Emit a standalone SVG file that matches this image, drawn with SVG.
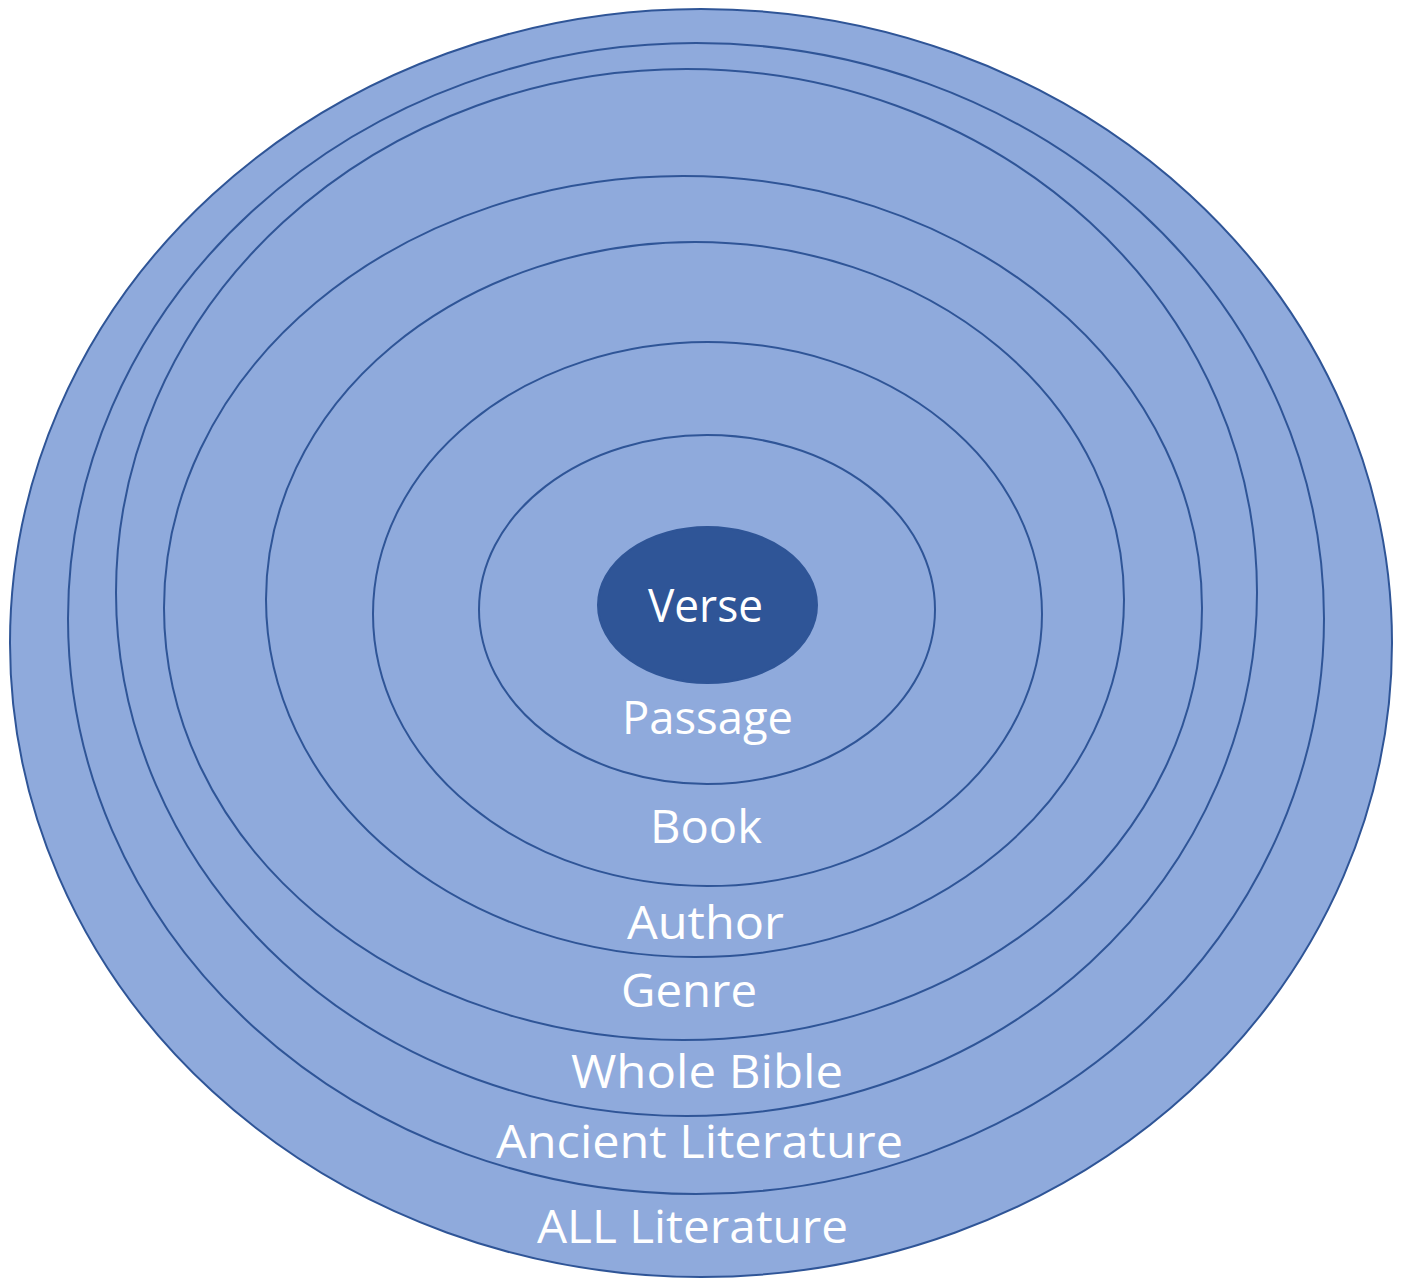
<svg xmlns="http://www.w3.org/2000/svg" width="1403" height="1278" viewBox="0 0 1403 1278">
<style>
.ring{fill:#8FAADC;stroke:#2F5597;stroke-width:2}
.core{fill:#2F5597;stroke:#2F5597;stroke-width:2}
.lbl{font-family:"Open Sans","Noto Sans","Liberation Sans",sans-serif;font-size:46px;fill:#FFFFFF;text-anchor:middle}
</style>
<rect width="1403" height="1278" fill="#FFFFFF"/>
<g id="all-literature"><ellipse class="ring" cx="701" cy="643" rx="691" ry="634"/></g>
<g id="ancient-literature"><ellipse class="ring" cx="696" cy="618.5" rx="628" ry="575.5"/></g>
<g id="whole-bible"><ellipse class="ring" cx="686.5" cy="592.5" rx="570.5" ry="523.5"/></g>
<g id="genre"><ellipse class="ring" cx="683" cy="608" rx="519" ry="432"/></g>
<g id="author"><ellipse class="ring" cx="695" cy="599.5" rx="429" ry="357.5"/></g>
<g id="book"><ellipse class="ring" cx="707.5" cy="614" rx="334.5" ry="272"/></g>
<g id="passage"><ellipse class="ring" cx="707" cy="609.5" rx="228" ry="174.5"/></g>
<g id="verse"><ellipse class="core" cx="707.5" cy="605" rx="109.5" ry="78"/></g>
<g id="labels">
<text class="lbl" x="705.5" y="622" textLength="115" lengthAdjust="spacingAndGlyphs">Verse</text>
<text class="lbl" x="707.5" y="734" textLength="171" lengthAdjust="spacingAndGlyphs">Passage</text>
<text class="lbl" x="706" y="843" textLength="112" lengthAdjust="spacingAndGlyphs">Book</text>
<text class="lbl" x="705.5" y="939" textLength="157" lengthAdjust="spacingAndGlyphs">Author</text>
<text class="lbl" x="689" y="1007" textLength="136" lengthAdjust="spacingAndGlyphs">Genre</text>
<text class="lbl" x="707" y="1088" textLength="272" lengthAdjust="spacingAndGlyphs">Whole Bible</text>
<text class="lbl" x="699.5" y="1158" textLength="407" lengthAdjust="spacingAndGlyphs">Ancient Literature</text>
<text class="lbl" x="692.5" y="1243" textLength="311" lengthAdjust="spacingAndGlyphs">ALL Literature</text>
</g>
<g id="connectors"/>
</svg>
